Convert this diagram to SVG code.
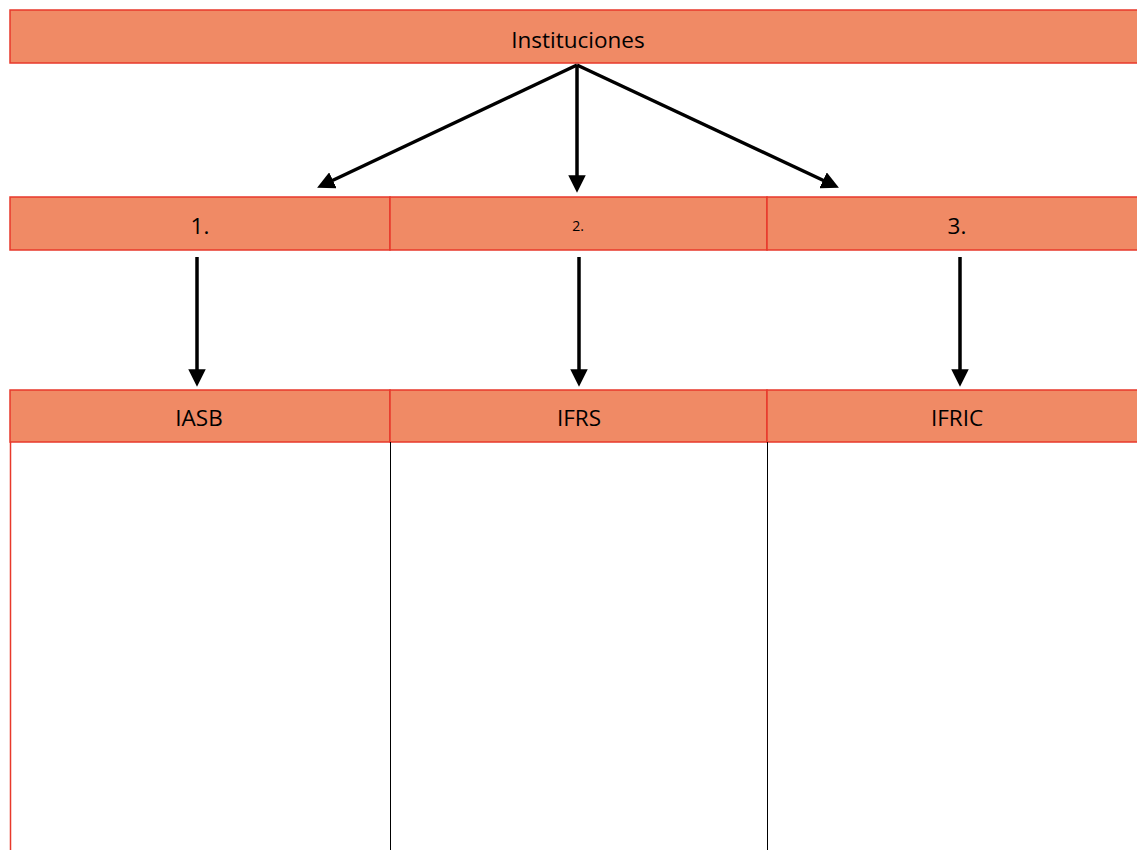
<svg xmlns="http://www.w3.org/2000/svg" width="1137" height="850" viewBox="0 0 1137 850">
<style>
.box{fill:#F08A65;stroke:#E8392B;stroke-width:1.5}
.lbl{font-family:"Open Sans","Liberation Sans",sans-serif;font-size:22.5px;fill:#000;text-anchor:middle}
.sm{font-size:14px}
.con{stroke:#000;stroke-width:3.5;fill:none;marker-end:url(#ah)}
</style>
<defs>
<marker id="ah" markerWidth="5" markerHeight="5" refX="2.5" refY="2.5" orient="auto" markerUnits="strokeWidth" viewBox="0 0 5 5">
<path d="M0,0 L5,2.5 L0,5 Z" fill="#000"/>
</marker>
</defs>
<rect width="1137" height="850" fill="#fff"/>
<g id="instituciones">
<rect class="box" x="10" y="10" width="1140" height="53"/>
<text class="lbl" x="578" y="48">Instituciones</text>
</g>
<g id="n1">
<rect class="box" x="10" y="197" width="380" height="53"/>
<text class="lbl" x="200" y="234">1.</text>
</g>
<g id="n2">
<rect class="box" x="390" y="197" width="377" height="53"/>
<text class="lbl sm" x="578" y="231">2.</text>
</g>
<g id="n3">
<rect class="box" x="767" y="197" width="383" height="53"/>
<text class="lbl" x="957" y="234">3.</text>
</g>
<g id="iasb">
<rect class="box" x="10" y="390" width="380" height="52"/>
<text class="lbl" x="199" y="426">IASB</text>
<line x1="10.5" y1="442" x2="10.5" y2="850" stroke="#E8392B" stroke-width="1.5"/>
</g>
<g id="ifrs">
<rect class="box" x="390" y="390" width="377" height="52"/>
<text class="lbl" x="579" y="426">IFRS</text>
<line x1="390.5" y1="442" x2="390.5" y2="850" stroke="#000" stroke-width="1"/>
</g>
<g id="ifric">
<rect class="box" x="767" y="390" width="383" height="52"/>
<text class="lbl" x="957" y="426">IFRIC</text>
<line x1="767.5" y1="442" x2="767.5" y2="850" stroke="#000" stroke-width="1"/>
</g>
<g id="connectors">
<line class="con" x1="577" y1="65" x2="325" y2="184"/>
<line class="con" x1="577" y1="65" x2="577" y2="184"/>
<line class="con" x1="577" y1="65" x2="831" y2="184"/>
<line class="con" x1="197" y1="257" x2="197" y2="378"/>
<line class="con" x1="579" y1="257" x2="579" y2="378"/>
<line class="con" x1="960" y1="257" x2="960" y2="378"/>
</g>
</svg>
